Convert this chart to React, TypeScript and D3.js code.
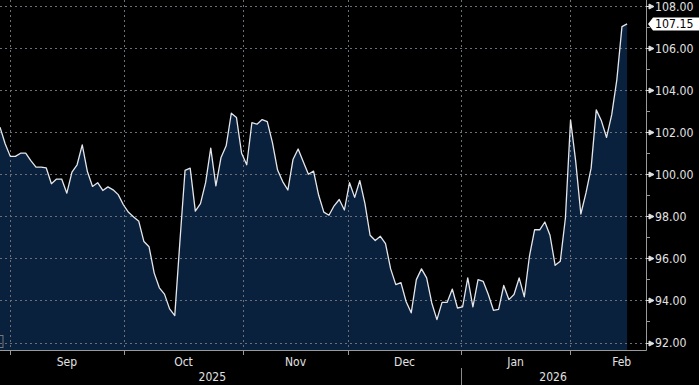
import React, { useEffect, useRef } from 'react'
import * as d3 from 'd3'

// daily closes, Aug 28 2025 -> Feb 2026
const values: number[] = [
  102.24, 101.45, 100.85, 100.85, 101.0, 101.0, 100.65, 100.34, 100.34, 100.3,
  99.55, 99.77, 99.77, 99.1, 100.1, 100.45, 101.4, 100.13, 99.42, 99.6,
  99.23, 99.4, 99.26, 99.03, 98.55, 98.19, 97.97, 97.76, 96.8, 96.55,
  95.3, 94.6, 94.3, 93.6, 93.28, 96.8, 100.18, 100.29, 98.25, 98.6,
  99.6, 101.24, 99.45, 100.8, 101.35, 102.9, 102.7, 101.0, 100.45, 102.45,
  102.38, 102.6, 102.5, 101.5, 100.2, 99.65, 99.25, 100.7, 101.2, 100.6,
  100.0, 100.15, 99.0, 98.2, 98.05, 98.5, 98.8, 98.3, 99.6, 98.9,
  99.7, 98.6, 97.1, 96.85, 97.05, 96.7, 95.5, 94.75, 94.85, 93.95,
  93.41, 94.99, 95.5, 95.07, 93.88, 93.09, 93.91, 93.91, 94.54, 93.64,
  93.69, 95.07, 93.69, 94.99, 94.91, 94.28, 93.53, 93.57, 94.71, 94.04,
  94.28, 95.07, 94.17, 96.1, 97.36, 97.36, 97.73, 97.1, 95.67, 95.86,
  97.92, 102.59, 100.61, 98.11, 99.11, 100.29, 103.06, 102.54, 101.75, 102.82,
  104.49, 107.02, 107.15,
]

const monthLabels = ['Sep', 'Oct', 'Nov', 'Dec', 'Jan', 'Feb']
// month boundaries in trading-day units (last one is the hidden Mar start)
const monthStarts = [1.95, 24.1, 47.3, 67.7, 89.7, 110.9, 131]
const yearLabels = ['2025', '2026']
const yearLabelPos = [41.3, 107.6]
const yearBreak = 89.7
const yTicks = [92, 94, 96, 98, 100, 102, 104, 106, 108]
const yMinorTicks = [93, 95, 97, 99, 101, 103, 105, 107]

const W = 699
const H = 385
const axisX = 646
const axisY = 350
const font = '"DejaVu Sans Condensed", "Liberation Sans Narrow", sans-serif'

export default function App() {
  const svgRef = useRef<SVGSVGElement>(null)

  useEffect(() => {
    if (!svgRef.current) return
    const svg = d3.select(svgRef.current)
    svg.selectAll('*').remove()

    const x = d3.scaleLinear().domain([0, values.length - 1]).range([0, 627.1])
    const y = d3.scaleLinear().domain([92, 108]).range([342.5, 6])

    svg.append('rect').attr('width', W).attr('height', H).attr('fill', '#000')

    // area + line
    const area = d3.area<number>()
      .x((_, i) => x(i))
      .y0(axisY)
      .y1(d => y(d))
    svg.append('path').datum(values).attr('d', area).attr('fill', '#0a213d')

    // grid
    const grid = svg.append('g')
      .attr('stroke', '#6a6f78')
      .attr('stroke-width', 1)
      .attr('stroke-dasharray', '2,3')
    grid.selectAll('line.h')
      .data(yTicks)
      .join('line')
      .attr('class', 'h')
      .attr('x1', 0)
      .attr('x2', axisX)
      .attr('y1', d => Math.round(y(d)) + 0.5)
      .attr('y2', d => Math.round(y(d)) + 0.5)
    grid.selectAll('line.v')
      .data(monthStarts.slice(0, monthLabels.length))
      .join('line')
      .attr('class', 'v')
      .attr('x1', d => Math.round(x(d)) + 0.5)
      .attr('x2', d => Math.round(x(d)) + 0.5)
      .attr('y1', 0)
      .attr('y2', axisY)

    const line = d3.line<number>()
      .x((_, i) => x(i))
      .y(d => y(d))
    svg.append('path').datum(values)
      .attr('d', line)
      .attr('fill', 'none')
      .attr('stroke', '#e4e6ea')
      .attr('stroke-width', 1.3)
      .attr('stroke-linejoin', 'round')

    // axes
    svg.append('line')
      .attr('x1', axisX + 0.5).attr('x2', axisX + 0.5)
      .attr('y1', 0).attr('y2', axisY + 0.5)
      .attr('stroke', '#9a9a9a')
    svg.append('line')
      .attr('x1', 0).attr('x2', axisX + 0.5)
      .attr('y1', axisY + 0.5).attr('y2', axisY + 0.5)
      .attr('stroke', '#9a9a9a')
    svg.append('rect')
      .attr('x', -6).attr('y', 335.5).attr('width', 9).attr('height', 12)
      .attr('fill', 'none').attr('stroke', '#777')

    // right axis ticks
    svg.selectAll('path.maj')
      .data(yTicks)
      .join('path')
      .attr('class', 'maj')
      .attr('d', d => {
        const yy = Math.round(y(d)) + 0.5
        return `M${axisX},${yy}H649L649,${yy - 2.5}L654,${yy}L649,${yy + 2.5}L649,${yy}`
      })
      .attr('fill', '#e0e0e0')
      .attr('stroke', '#e0e0e0')
      .attr('stroke-width', 1)
    svg.selectAll('line.min')
      .data(yMinorTicks)
      .join('line')
      .attr('class', 'min')
      .attr('x1', axisX).attr('x2', axisX + 4)
      .attr('y1', d => Math.round(y(d)) + 0.5)
      .attr('y2', d => Math.round(y(d)) + 0.5)
      .attr('stroke', '#9a9a9a')
    svg.selectAll('text.ylab')
      .data(yTicks)
      .join('text')
      .attr('class', 'ylab')
      .attr('x', 655)
      .attr('y', d => y(d) + 4.5)
      .attr('fill', '#e2e2e2')
      .attr('font-family', font)
      .attr('font-size', 12.2)
      .text(d => d.toFixed(2))

    // last value marker
    const last = values[values.length - 1]
    const ly = y(last)
    svg.append('path')
      .attr('d', `M648,${ly}L653,${ly - 6.5}H699V${ly + 6.5}H653Z`)
      .attr('fill', '#fff')
    svg.append('text')
      .attr('x', 655)
      .attr('y', ly + 4.5)
      .attr('fill', '#000')
      .attr('font-family', font)
      .attr('font-size', 12.2)
      .text(last.toFixed(2))

    // bottom axis: month ticks + labels
    svg.selectAll('line.mt')
      .data(monthStarts.slice(0, monthLabels.length))
      .join('line')
      .attr('class', 'mt')
      .attr('x1', d => Math.round(x(d)) + 0.5)
      .attr('x2', d => Math.round(x(d)) + 0.5)
      .attr('y1', axisY)
      .attr('y2', axisY + 5)
      .attr('stroke', '#9a9a9a')
    svg.selectAll('text.mlab')
      .data(monthLabels)
      .join('text')
      .attr('class', 'mlab')
      .attr('x', (_, i) => x((monthStarts[i] + monthStarts[i + 1]) / 2))
      .attr('y', 366)
      .attr('text-anchor', 'middle')
      .attr('fill', '#e2e2e2')
      .attr('font-family', font)
      .attr('font-size', 12)
      .text(d => d)

    svg.append('line')
      .attr('x1', Math.round(x(yearBreak)) + 0.5)
      .attr('x2', Math.round(x(yearBreak)) + 0.5)
      .attr('y1', 368)
      .attr('y2', H)
      .attr('stroke', '#8a8a8a')
    svg.selectAll('text.ylabel')
      .data(yearLabels)
      .join('text')
      .attr('class', 'ylabel')
      .attr('x', (_, i) => x(yearLabelPos[i]))
      .attr('y', 381)
      .attr('text-anchor', 'middle')
      .attr('fill', '#e2e2e2')
      .attr('font-family', font)
      .attr('font-size', 12)
      .text(d => d)
  }, [])

  return (
    <div style={{ position: 'fixed', left: 0, top: 0, width: W, height: H, background: '#000' }}>
      <svg ref={svgRef} width={W} height={H} style={{ display: 'block' }}></svg>
    </div>
  )
}
